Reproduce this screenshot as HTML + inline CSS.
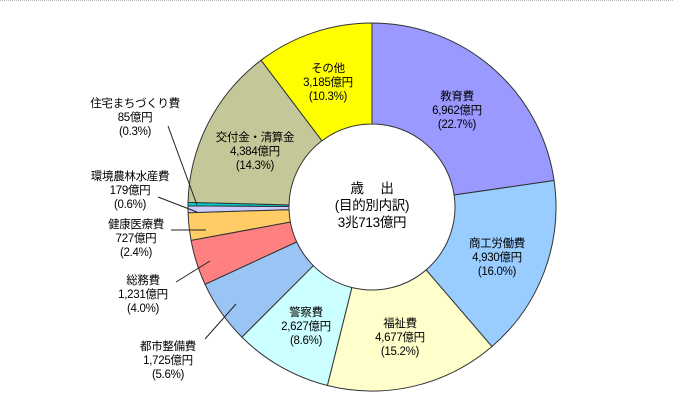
<!DOCTYPE html>
<html><head><meta charset="utf-8"><style>
body{margin:0;background:#fff;}
#w{position:relative;width:673px;height:417px;overflow:hidden;border-top:1px dotted #bbb;box-sizing:border-box;font-family:"Liberation Sans","Noto Sans CJK JP",sans-serif;}
.l{position:absolute;font-size:11.5px;line-height:14px;text-align:center;color:#000;white-space:nowrap;transform:translateX(-50%);letter-spacing:-0.3px}
.c{font-size:13.5px;line-height:17px}
svg{position:absolute;left:0;top:0}
</style></head><body><div id="w">
<svg id="s" width="673" height="417"></svg>
<div class="l" style="left:457px;top:89px">教育費<br>6,962億円<br>(22.7%)</div>
<div class="l" style="left:497px;top:236px">商工労働費<br>4,930億円<br>(16.0%)</div>
<div class="l" style="left:400px;top:316px">福祉費<br>4,677億円<br>(15.2%)</div>
<div class="l" style="left:306px;top:305px">警察費<br>2,627億円<br>(8.6%)</div>
<div class="l" style="left:255px;top:130px">交付金・清算金<br>4,384億円<br>(14.3%)</div>
<div class="l" style="left:328px;top:61px">その他<br>3,185億円<br>(10.3%)</div>
<div class="l c" style="left:372px;top:179px">歳　 出<br>(目的別内訳)<br>3兆713億円</div>
<div class="l" style="left:135px;top:96px">住宅まちづくり費<br>85億円<br>(0.3%)</div>
<div class="l" style="left:130px;top:169px">環境農林水産費<br>179億円<br>(0.6%)</div>
<div class="l" style="left:136px;top:217px">健康医療費<br>727億円<br>(2.4%)</div>
<div class="l" style="left:143px;top:273px">総務費<br>1,231億円<br>(4.0%)</div>
<div class="l" style="left:168px;top:339px">都市整備費<br>1,725億円<br>(5.6%)</div>
</div>
<script>
var d=[[22.7,"#9999ff"],[16.0,"#99ccff"],[15.2,"#ffffcc"],[8.6,"#ccffff"],[5.6,"#99c4f4"],[4.0,"#ff8080"],[2.4,"#ffcc66"],[0.6,"#ccccff"],[0.3,"#00cccc"],[14.3,"#c4c898"],[10.3,"#ffff00"]];
var cx=372,cy=206,R=184,r=83,a=0,h="";
function p(rr,t){return (cx+rr*Math.sin(t)).toFixed(2)+","+(cy-rr*Math.cos(t)).toFixed(2);}
d.forEach(function(x){var t0=a*2*Math.PI/100;a+=x[0];var t1=a*2*Math.PI/100;var lg=(x[0]>50)?1:0;
h+='<path d="M'+p(r,t0)+' L'+p(R,t0)+' A'+R+','+R+' 0 '+lg+' 1 '+p(R,t1)+' L'+p(r,t1)+' A'+r+','+r+' 0 '+lg+' 0 '+p(r,t0)+' Z" fill="'+x[1]+'" stroke="#333" stroke-width="1"/>';});
h+='<g stroke="#222" stroke-width="1"><line x1="168" y1="125" x2="197" y2="204"/><line x1="158" y1="196" x2="197" y2="211"/><line x1="171" y1="229" x2="206" y2="229"/><line x1="176" y1="281" x2="210" y2="260"/><line x1="205" y1="338" x2="236" y2="303"/></g>';
document.getElementById("s").innerHTML=h;
</script>
</body></html>
